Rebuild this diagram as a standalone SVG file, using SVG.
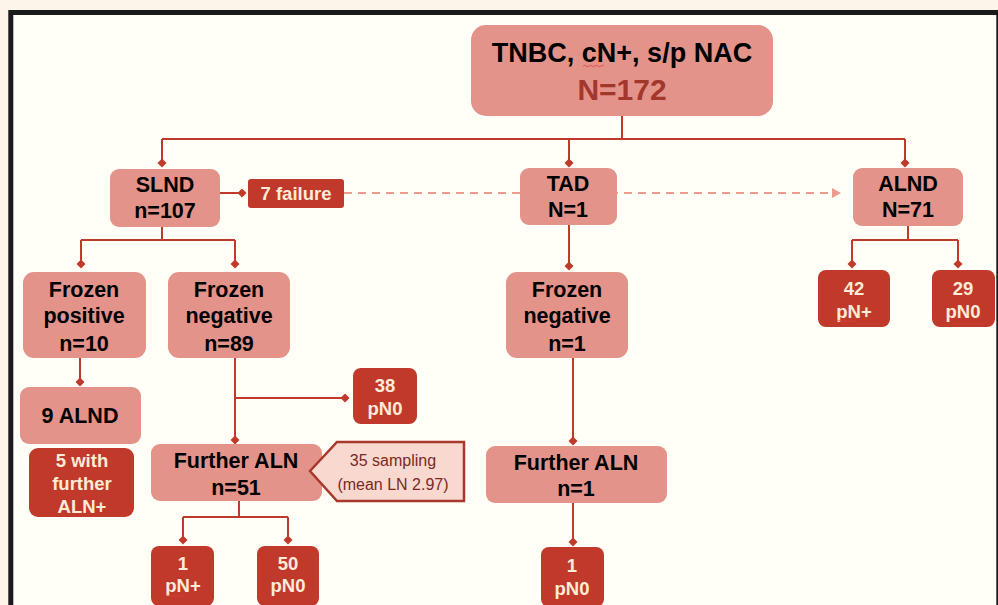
<svg xmlns="http://www.w3.org/2000/svg" width="998" height="605" viewBox="0 0 998 605">
<defs>
<style>
.light{fill:#e3938a}
.dark{fill:#c0392b}
.t{font-family:"Liberation Sans",Arial,sans-serif;font-weight:bold;text-anchor:middle}
.tb{fill:#000;font-size:21.5px}
.tw{fill:#fcebd7;font-size:18.5px}
.ln{stroke:#c0392b;stroke-width:2;fill:none}
.dm{marker-end:url(#dia)}
.sq{stroke:#e04040;stroke-width:0.8;fill:none}
.ct{font-family:"Liberation Sans",Arial,sans-serif;font-size:16px;fill:#7a2a22;text-anchor:middle}
</style>
<marker id="dia" markerUnits="userSpaceOnUse" markerWidth="10" markerHeight="10" refX="4.5" refY="4.5" orient="auto">
<path d="M0,4.5 L4.5,0 L9,4.5 L4.5,9 Z" fill="#c0392b"/>
</marker>
<marker id="tri" markerUnits="userSpaceOnUse" markerWidth="12" markerHeight="12" refX="1" refY="5" orient="auto">
<path d="M0,0 L9,5 L0,10 Z" fill="#eb9b8c"/>
</marker>
</defs>
<rect x="0" y="0" width="998" height="605" fill="#fdf5ea"/>
<rect x="10.8" y="12.5" width="988" height="700" fill="#fffef7" stroke="#1a1a1a" stroke-width="5"/>

<g id="connectors">
<path class="ln" d="M622,116 V139 M162,139 H905"/>
<path class="ln dm" d="M162,139 V163"/>
<path class="ln dm" d="M569,139 V163"/>
<path class="ln dm" d="M905,139 V163"/>
<path class="ln dm" d="M220,193 H242"/>
<path d="M344,193 H833" stroke="#eb9b8c" stroke-width="2" stroke-dasharray="8,6" fill="none" marker-end="url(#tri)"/>
<path class="ln" d="M162,227 V240 M81,240 H235"/>
<path class="ln dm" d="M81,240 V264"/>
<path class="ln dm" d="M235,240 V264"/>
<path class="ln dm" d="M80,358 V382"/>
<path class="ln dm" d="M235,358 V440"/>
<path class="ln dm" d="M235,398 H345"/>
<path class="ln" d="M239,501 V517 M183,517 H288"/>
<path class="ln dm" d="M183,517 V540"/>
<path class="ln dm" d="M288,517 V540"/>
<path class="ln dm" d="M569,225 V266"/>
<path class="ln dm" d="M573,358 V441"/>
<path class="ln dm" d="M573,503 V542"/>
<path class="ln" d="M908,226 V240 M852,240 H958"/>
<path class="ln dm" d="M852,240 V264"/>
<path class="ln dm" d="M958,240 V264"/>
</g>

<g id="root">
<rect class="light" x="471" y="25" width="302" height="91" rx="15"/>
<text class="t" x="622" y="62" font-size="27" fill="#000">TNBC, cN+, s/p NAC</text>
<path class="sq" d="M583,66 q1.5,-1.5 3,0 t3,0 t3,0 t3,0 t3,0 t3,0 t3,0"/>
<text class="t" x="622" y="100" font-size="30" fill="#a3372c">N=172</text>
</g>

<g id="slnd">
<rect class="light" x="110" y="169" width="110" height="58" rx="9"/>
<text class="t tb" x="165" y="192">SLND</text>
<text class="t tb" x="165" y="218">n=107</text>
</g>

<g id="failure">
<rect class="dark" x="248" y="179" width="96" height="29" rx="3"/>
<text class="t tw" x="296" y="200">7 failure</text>
</g>

<g id="tad">
<rect class="light" x="520" y="168" width="97" height="57" rx="9"/>
<text class="t tb" x="568" y="191">TAD</text>
<text class="t tb" x="568" y="217">N=1</text>
</g>

<g id="alnd">
<rect class="light" x="853" y="168" width="110" height="58" rx="9"/>
<text class="t tb" x="908" y="191">ALND</text>
<text class="t tb" x="908" y="217">N=71</text>
</g>

<g id="frozen-pos">
<rect class="light" x="23" y="272" width="123" height="86" rx="11"/>
<text class="t tb" x="84" y="297">Frozen</text>
<text class="t tb" x="84" y="323">positive</text>
<text class="t tb" x="84" y="351">n=10</text>
</g>

<g id="frozen-neg">
<rect class="light" x="168" y="272" width="122" height="86" rx="11"/>
<text class="t tb" x="229" y="297">Frozen</text>
<text class="t tb" x="229" y="323">negative</text>
<text class="t tb" x="229" y="351">n=89</text>
</g>

<g id="alnd9">
<rect class="light" x="20" y="387" width="121" height="57" rx="9"/>
<text class="t tb" x="80" y="423">9 ALND</text>
</g>

<g id="further-pos">
<rect class="dark" x="29" y="448" width="105" height="69" rx="9"/>
<text class="t tw" x="82" y="467">5 with</text>
<text class="t tw" x="82" y="490">further</text>
<text class="t tw" x="82" y="513">ALN+</text>
</g>

<g id="pn0-38">
<rect class="dark" x="353" y="368" width="64" height="56" rx="8"/>
<text class="t tw" x="385" y="392">38</text>
<text class="t tw" x="385" y="415">pN0</text>
</g>

<g id="further-aln-51">
<rect class="light" x="151" y="444" width="171" height="57" rx="9"/>
<text class="t tb" x="236" y="468">Further ALN</text>
<text class="t tb" x="236" y="495">n=51</text>
</g>

<g id="sampling">
<polygon points="310,471 337,442 464,442 464,501 337,501" fill="#f9d8cf" stroke="#a8382c" stroke-width="2.5"/>
<text class="ct" x="393" y="466">35 sampling</text>
<text class="ct" x="393" y="490">(mean LN 2.97)</text>
</g>

<g id="pnplus-1">
<rect class="dark" x="151" y="546" width="63" height="60" rx="8"/>
<text class="t tw" x="183" y="570">1</text>
<text class="t tw" x="183" y="592">pN+</text>
<path class="sq" d="M166,596 q1.5,-1.5 3,0 t3,0 t3,0 t3,0 t3,0 t3,0"/>
</g>

<g id="pn0-50">
<rect class="dark" x="257" y="546" width="62" height="60" rx="8"/>
<text class="t tw" x="288" y="570">50</text>
<text class="t tw" x="288" y="592">pN0</text>
</g>

<g id="frozen-neg-tad">
<rect class="light" x="506" y="272" width="122" height="86" rx="11"/>
<text class="t tb" x="567" y="297">Frozen</text>
<text class="t tb" x="567" y="323">negative</text>
<text class="t tb" x="567" y="351">n=1</text>
</g>

<g id="further-aln-1">
<rect class="light" x="486" y="446" width="181" height="57" rx="9"/>
<text class="t tb" x="576" y="470">Further ALN</text>
<text class="t tb" x="576" y="496">n=1</text>
</g>

<g id="pn0-1">
<rect class="dark" x="541" y="547" width="63" height="60" rx="8"/>
<text class="t tw" x="572" y="572">1</text>
<text class="t tw" x="572" y="595">pN0</text>
</g>

<g id="pnplus-42">
<rect class="dark" x="818" y="270" width="72" height="57" rx="8"/>
<text class="t tw" x="854" y="295">42</text>
<text class="t tw" x="854" y="318">pN+</text>
<path class="sq" d="M837,321 q1.5,-1.5 3,0 t3,0 t3,0 t3,0 t3,0 t3,0"/>
</g>

<g id="pn0-29">
<rect class="dark" x="932" y="270" width="63" height="57" rx="8"/>
<text class="t tw" x="963" y="295">29</text>
<text class="t tw" x="963" y="318">pN0</text>
</g>
</svg>
